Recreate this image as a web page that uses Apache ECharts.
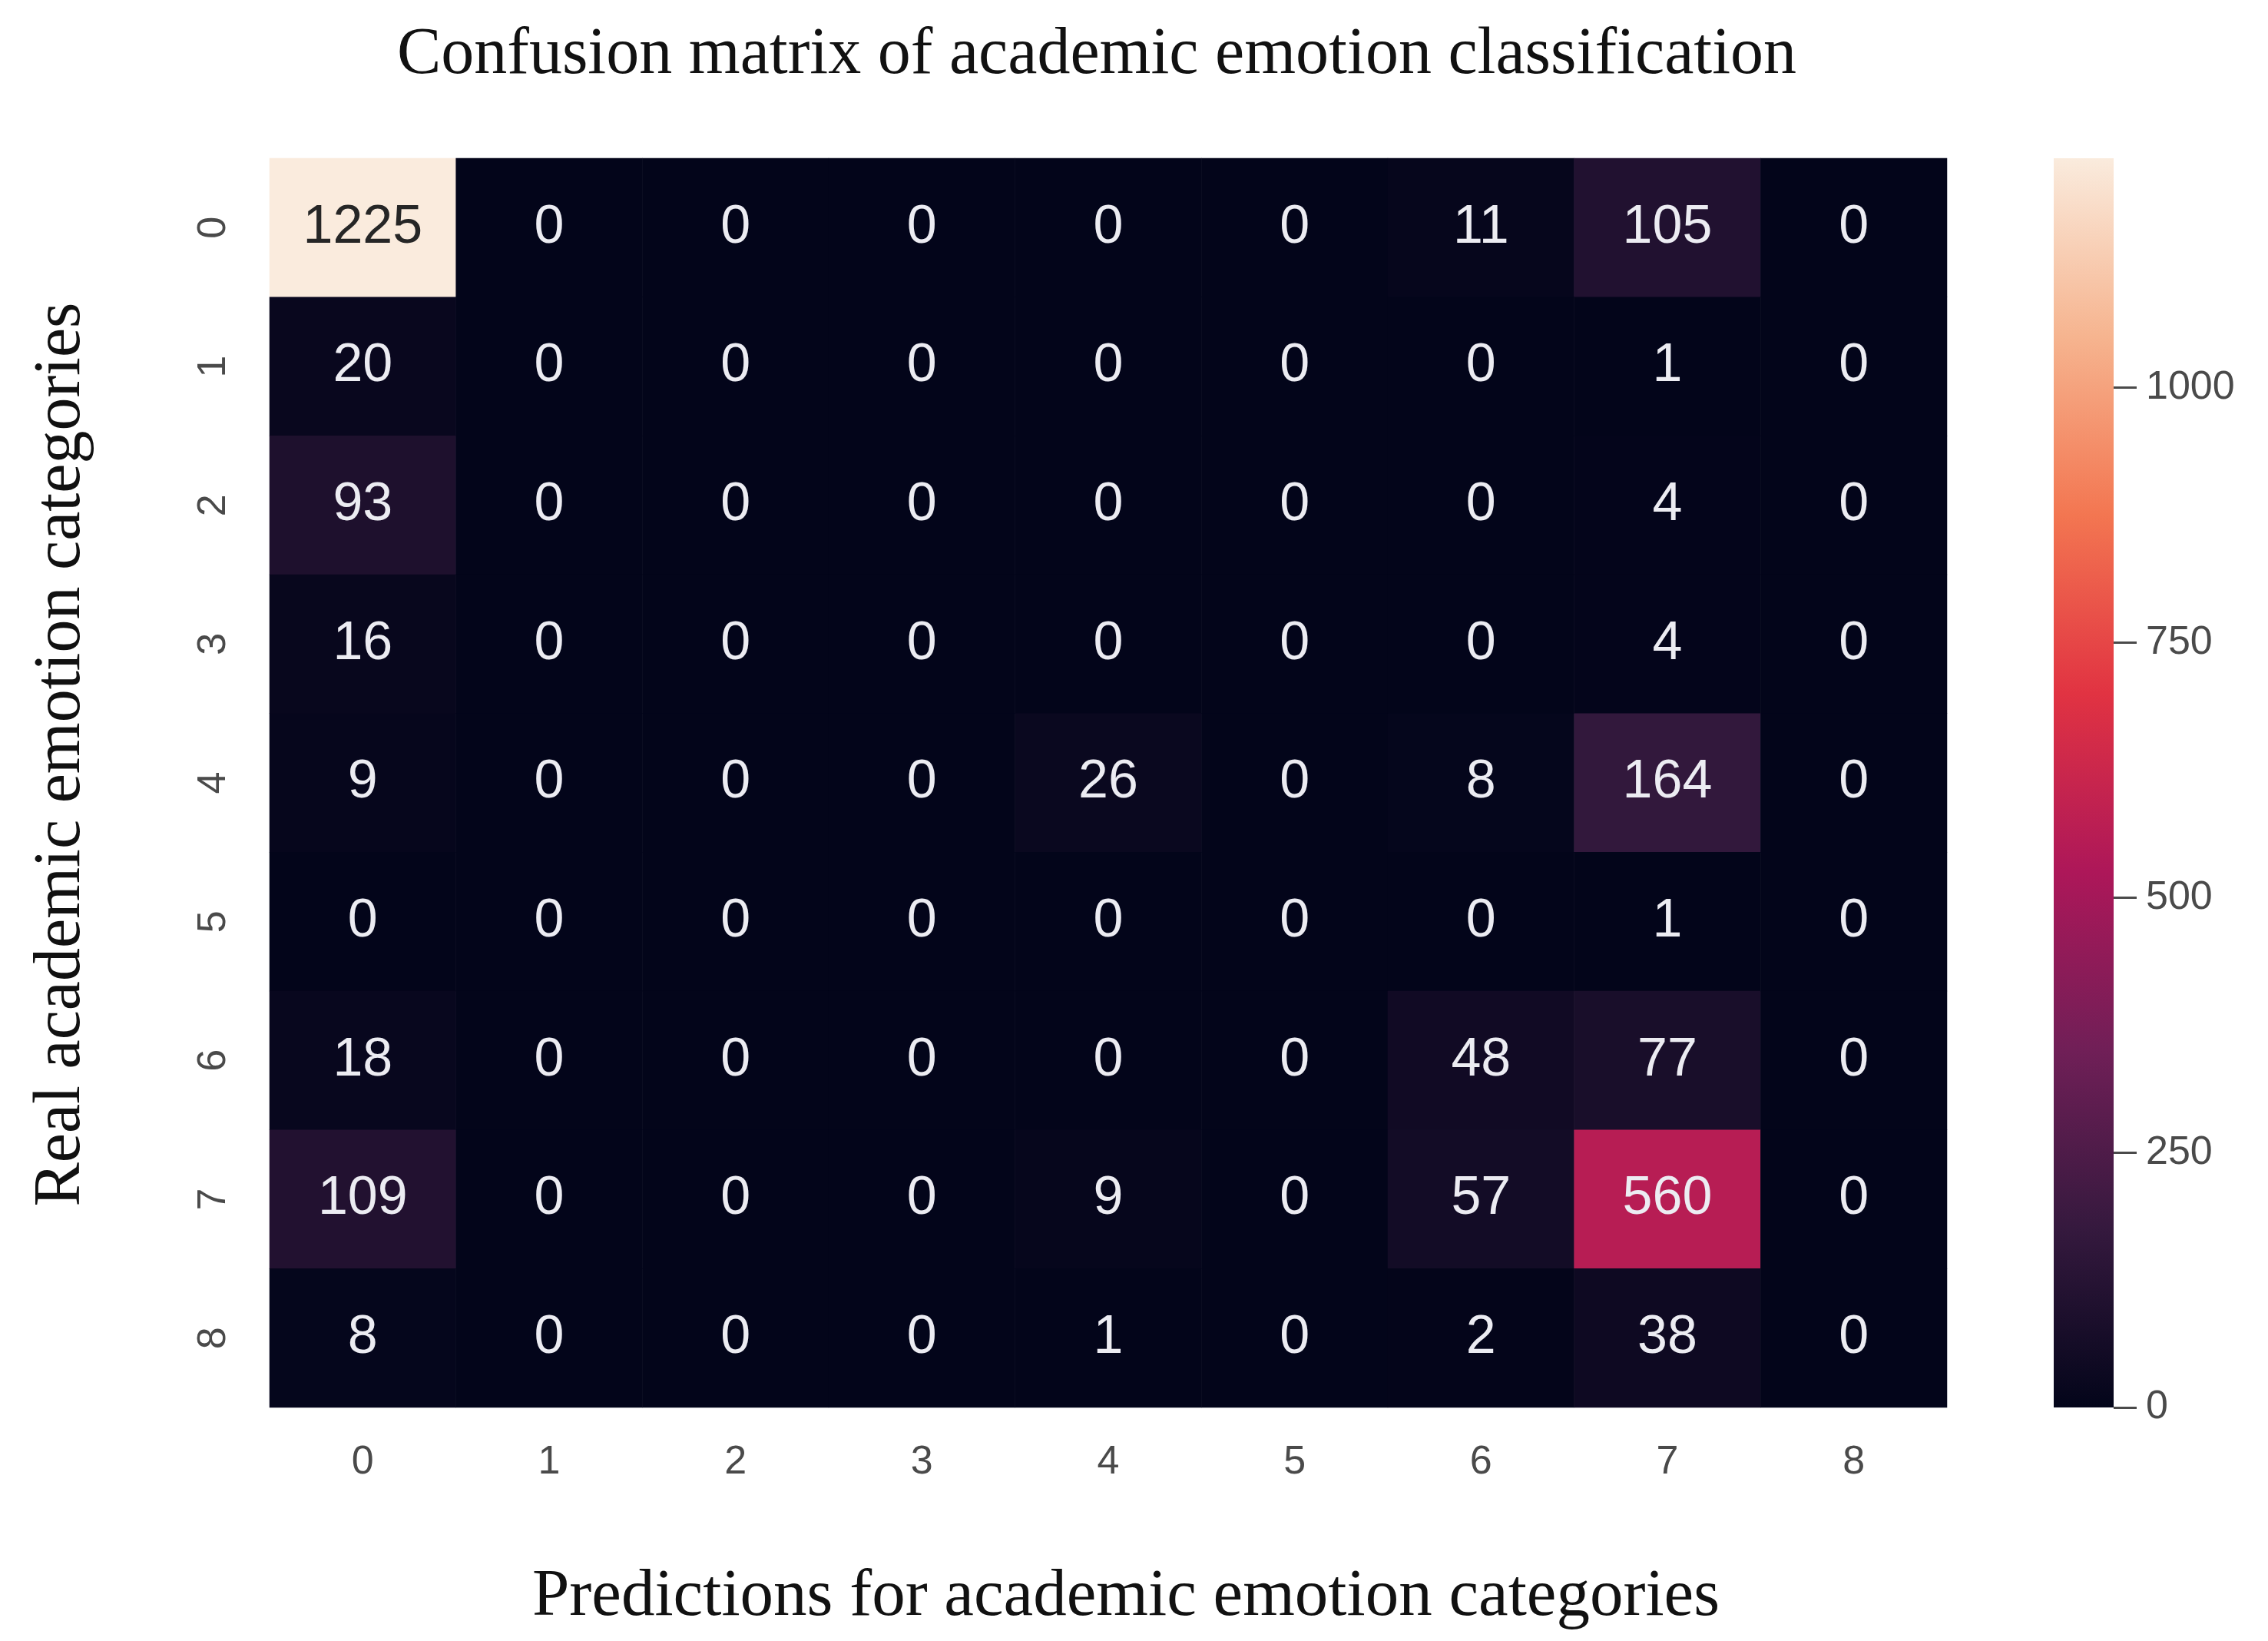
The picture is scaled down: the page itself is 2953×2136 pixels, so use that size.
<!DOCTYPE html>
<html>
<head>
<meta charset="utf-8">
<script src="https://cdn.jsdelivr.net/npm/echarts@6/dist/echarts.min.js"></script>
<style>
html,body{margin:0;padding:0;background:#ffffff;}
#chart{width:2953px;height:2136px;}
</style>
</head>
<body>
<div id="chart"></div>
<script>
// Category labels (predicted = columns, real = rows)
const predLabels = ['0','1','2','3','4','5','6','7','8'];
const realLabels = ['0','1','2','3','4','5','6','7','8'];

// Confusion matrix rows (real class i), columns = predicted class
const real0 = [1225, 0, 0, 0, 0, 0, 11, 105, 0];
const real1 = [20, 0, 0, 0, 0, 0, 0, 1, 0];
const real2 = [93, 0, 0, 0, 0, 0, 0, 4, 0];
const real3 = [16, 0, 0, 0, 0, 0, 0, 4, 0];
const real4 = [9, 0, 0, 0, 26, 0, 8, 164, 0];
const real5 = [0, 0, 0, 0, 0, 0, 0, 1, 0];
const real6 = [18, 0, 0, 0, 0, 0, 48, 77, 0];
const real7 = [109, 0, 0, 0, 9, 0, 57, 560, 0];
const real8 = [8, 0, 0, 0, 1, 0, 2, 38, 0];

// Colorbar tick labels
const colorbarTicks = [0, 250, 500, 750, 1000];

// Texts
const titleText = 'Confusion matrix of academic emotion classification';
const xTitle = 'Predictions for academic emotion categories';
const yTitle = 'Real academic emotion categories';

// "rocket" colormap sampled at i/7
const rocket = ['#03051a', '#35193e', '#701f57', '#ad1759', '#e13342', '#f37651', '#f6b48f', '#faebdd'];

const rows = [real0, real1, real2, real3, real4, real5, real6, real7, real8];
let maxVal = 0;
rows.forEach(r => r.forEach(v => { if (v > maxVal) maxVal = v; }));

const heatData = [];
rows.forEach((r, yi) => {
  r.forEach((v, xi) => {
    const t = v / maxVal;
    heatData.push({
      value: [xi, yi, v],
      label: { color: t > 0.6 ? '#262626' : '#ececf2' }
    });
  });
});

const gridL = 351, gridT = 206, gridW = 2184, gridH = 1626;
const cbL = 2674, cbW = 78;

const chart = echarts.init(document.getElementById('chart'), null, { renderer: 'canvas' });
chart.setOption({
  animation: false,
  backgroundColor: '#ffffff',
  grid: [
    { left: gridL, top: gridT, width: gridW, height: gridH },
    { left: cbL, top: gridT, width: cbW, height: gridH }
  ],
  xAxis: [
    {
      type: 'category', gridIndex: 0, data: predLabels, position: 'bottom',
      axisLine: { show: false }, axisTick: { show: false }, splitLine: { show: false },
      axisLabel: { fontFamily: 'Liberation Sans', fontSize: 52, color: '#4a4a4a', margin: 46 }
    },
    {
      type: 'category', gridIndex: 1, data: ['cb'], show: false
    }
  ],
  yAxis: [
    {
      type: 'category', gridIndex: 0, data: realLabels, inverse: true,
      axisLine: { show: false }, axisTick: { show: false }, splitLine: { show: false },
      axisLabel: { fontFamily: 'Liberation Sans', fontSize: 52, color: '#4a4a4a', rotate: 90, margin: 46 }
    },
    {
      type: 'value', gridIndex: 1, position: 'right', min: 0, max: maxVal,
      axisLine: { show: false },
      splitLine: { show: false },
      axisTick: { show: true, inside: false, length: 30, lineStyle: { color: '#4a4a4a', width: 3 }, customValues: colorbarTicks },
      axisLabel: {
        fontFamily: 'Liberation Sans', fontSize: 52, color: '#4a4a4a', margin: 42,
        customValues: colorbarTicks, formatter: v => String(v)
      }
    }
  ],
  visualMap: {
    show: false, type: 'continuous', min: 0, max: maxVal, seriesIndex: 0,
    inRange: { color: rocket }
  },
  series: [
    {
      type: 'heatmap', xAxisIndex: 0, yAxisIndex: 0, data: heatData,
      label: { show: true, fontFamily: 'Liberation Sans', fontSize: 70 },
      itemStyle: { borderWidth: 0 }
    },
    {
      type: 'bar', xAxisIndex: 1, yAxisIndex: 1, data: [maxVal], barWidth: '100%',
      itemStyle: {
        color: {
          type: 'linear', x: 0, y: 1, x2: 0, y2: 0,
          colorStops: rocket.map((c, i) => ({ offset: i / (rocket.length - 1), color: c }))
        }
      },
      silent: true
    }
  ],
  graphic: [
    {
      type: 'text', x: 1428, y: 72,
      style: { text: titleText, fontFamily: 'Liberation Serif', fontSize: 86, fill: '#111', align: 'center', verticalAlign: 'middle' }
    },
    {
      type: 'text', x: 1466, y: 2079,
      style: { text: xTitle, fontFamily: 'Liberation Serif', fontSize: 87, fill: '#111', align: 'center', verticalAlign: 'middle' }
    },
    {
      type: 'text', x: 80, y: 982, rotation: Math.PI / 2,
      style: { text: yTitle, fontFamily: 'Liberation Serif', fontSize: 86, fill: '#111', align: 'center', verticalAlign: 'middle' }
    }
  ]
});
</script>
</body>
</html>
